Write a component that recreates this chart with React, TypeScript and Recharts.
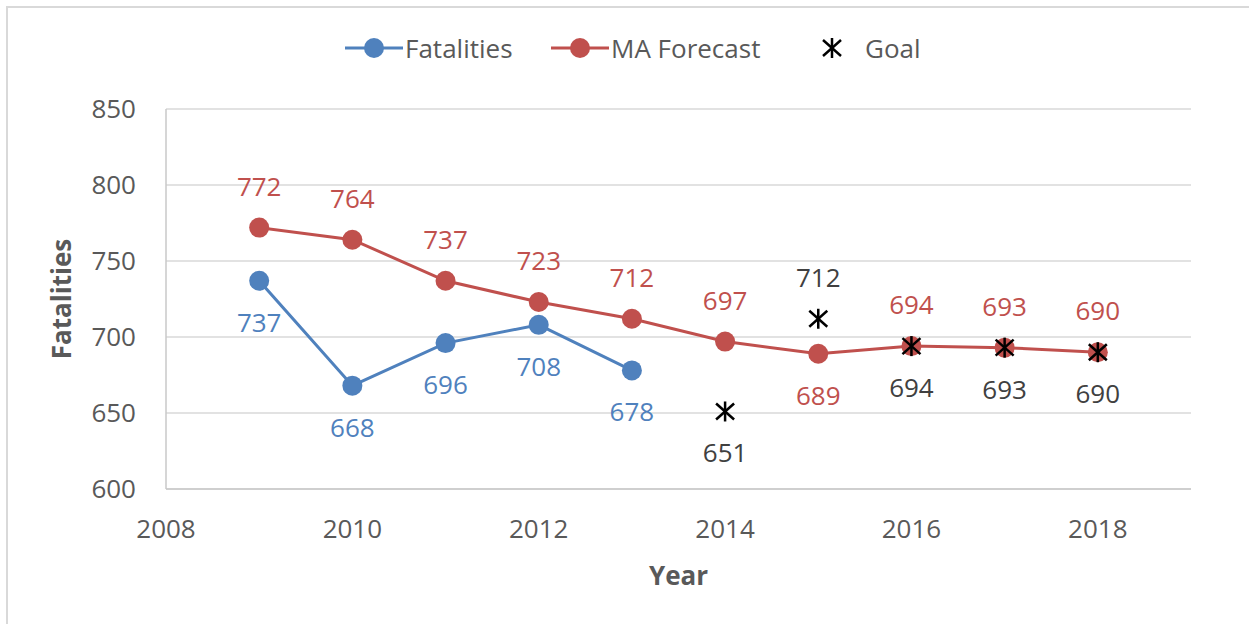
import React from "react";
import { LineChart, Line, XAxis, YAxis, CartesianGrid } from "recharts";

const fatalityYears = [2009, 2010, 2011, 2012, 2013];
const fatalityValues = [737, 668, 696, 708, 678];
const forecastYears = [2009, 2010, 2011, 2012, 2013, 2014, 2015, 2016, 2017, 2018];
const forecastValues = [772, 764, 737, 723, 712, 697, 689, 694, 693, 690];
const goalYears = [2014, 2015, 2016, 2017, 2018];
const goalValues = [651, 712, 694, 693, 690];
const xTicks = [2008, 2010, 2012, 2014, 2016, 2018];
const yTicks = [600, 650, 700, 750, 800, 850];

// labels that sit on the other side of their point
const forecastBelow = [2015];
const goalAbove = [2015];

const BLUE = "#4F81BD";
const RED = "#C0504D";
const GRAY = "#595959";
const FONT = "'Open Sans', sans-serif";
const FS = 26;

const fatalData = fatalityYears.map((year, i) => ({ year, value: fatalityValues[i] }));
const forecastData = forecastYears.map((year, i) => ({ year, value: forecastValues[i] }));
const goalData = goalYears.map((year, i) => ({ year, value: goalValues[i] }));

function Asterisk({ cx, cy }: { cx: number; cy: number }) {
    return (
        <g stroke="#000" strokeWidth={2.5}>
            <line x1={cx} y1={cy - 10} x2={cx} y2={cy + 10} />
            <line x1={cx - 9} y1={cy - 8} x2={cx + 9} y2={cy + 8} />
            <line x1={cx - 9} y1={cy + 8} x2={cx + 9} y2={cy - 8} />
        </g>
    );
}

function makeDot(color: string, textColor: string, flip: number[], defaultBelow: boolean, star = false) {
    return (props: any) => {
        const { cx, cy, payload } = props;
        if (cx == null || cy == null) return <g key={props.key} />;
        const flipped = flip.includes(payload.year);
        const below = flipped ? !defaultBelow : defaultBelow;
        return (
            <g key={props.key}>
                {star ? <Asterisk cx={cx} cy={cy} /> : <circle cx={cx} cy={cy} r={10} fill={color} />}
                <text
                    x={cx}
                    y={below ? cy + 51 : cy - 32}
                    textAnchor="middle"
                    fill={textColor}
                    fontSize={FS}
                    fontFamily={FONT}
                >
                    {payload.value}
                </text>
            </g>
        );
    };
}

function LegendItem({ left, color, label, star }: { left: number; color?: string; label: string; star?: boolean }) {
    return (
        <div style={{ position: "absolute", left, top: 0, height: 36, display: "flex", alignItems: "center" }}>
            <svg width={58} height={24}>
                {star ? (
                    <Asterisk cx={29} cy={12} />
                ) : (
                    <>
                        <line x1={0} y1={12} x2={58} y2={12} stroke={color} strokeWidth={3} />
                        <circle cx={29} cy={12} r={10} fill={color} />
                    </>
                )}
            </svg>
            <span style={{ marginLeft: star ? 4 : 2, fontSize: FS, color: GRAY, fontFamily: FONT }}>{label}</span>
        </div>
    );
}

export default function App() {
    return (
        <div
            style={{
                position: "fixed",
                left: 6,
                top: 6,
                width: 1243,
                height: 618,
                borderLeft: "2px solid #d9d9d9",
                borderTop: "2px solid #d9d9d9",
                background: "#fff",
                fontFamily: FONT,
            }}
        >
            <div style={{ position: "absolute", left: 0, top: 22, width: 1241, height: 36 }}>
                <LegendItem left={337} color={BLUE} label="Fatalities" />
                <LegendItem left={543} color={RED} label="MA Forecast" />
                <LegendItem left={795} label="Goal" star />
            </div>
            <LineChart width={1241} height={616} margin={{ top: 101, right: 58, left: 0, bottom: 0 }}>
                <CartesianGrid vertical={false} stroke="#d9d9d9" strokeWidth={1.5} />
                <XAxis
                    dataKey="year"
                    type="number"
                    domain={[2008, 2019]}
                    ticks={xTicks}
                    height={135}
                    axisLine={{ stroke: "#c8c8c8", strokeWidth: 1.5 }}
                    tickLine={false}
                    tickSize={0}
                    tickMargin={31}
                    tick={{ fill: GRAY, fontSize: FS, fontFamily: FONT }}
                    label={{
                        value: "Year",
                        position: "insideBottom",
                        offset: 39,
                        fill: GRAY,
                        fontSize: FS,
                        fontWeight: "bold",
                        fontFamily: FONT,
                    }}
                />
                <YAxis
                    type="number"
                    domain={[600, 850]}
                    ticks={yTicks}
                    width={158}
                    axisLine={{ stroke: "#c8c8c8", strokeWidth: 1.5 }}
                    tickLine={false}
                    tickSize={0}
                    tickMargin={30}
                    tick={{ fill: GRAY, fontSize: FS, fontFamily: FONT }}
                    label={{
                        value: "Fatalities",
                        angle: -90,
                        position: "insideLeft",
                        offset: 54,
                        fill: GRAY,
                        fontSize: FS,
                        fontWeight: "bold",
                        fontFamily: FONT,
                        style: { textAnchor: "middle" },
                    }}
                />
                <Line
                    data={fatalData}
                    dataKey="value"
                    name="Fatalities"
                    stroke={BLUE}
                    strokeWidth={3}
                    dot={makeDot(BLUE, BLUE, [], true)}
                    activeDot={false}
                    isAnimationActive={false}
                />
                <Line
                    data={forecastData}
                    dataKey="value"
                    name="MA Forecast"
                    stroke={RED}
                    strokeWidth={3}
                    dot={makeDot(RED, RED, forecastBelow, false)}
                    activeDot={false}
                    isAnimationActive={false}
                />
                <Line
                    data={goalData}
                    dataKey="value"
                    name="Goal"
                    stroke="none"
                    dot={makeDot("#000", "#404040", goalAbove, true, true)}
                    activeDot={false}
                    isAnimationActive={false}
                />
            </LineChart>
        </div>
    );
}
